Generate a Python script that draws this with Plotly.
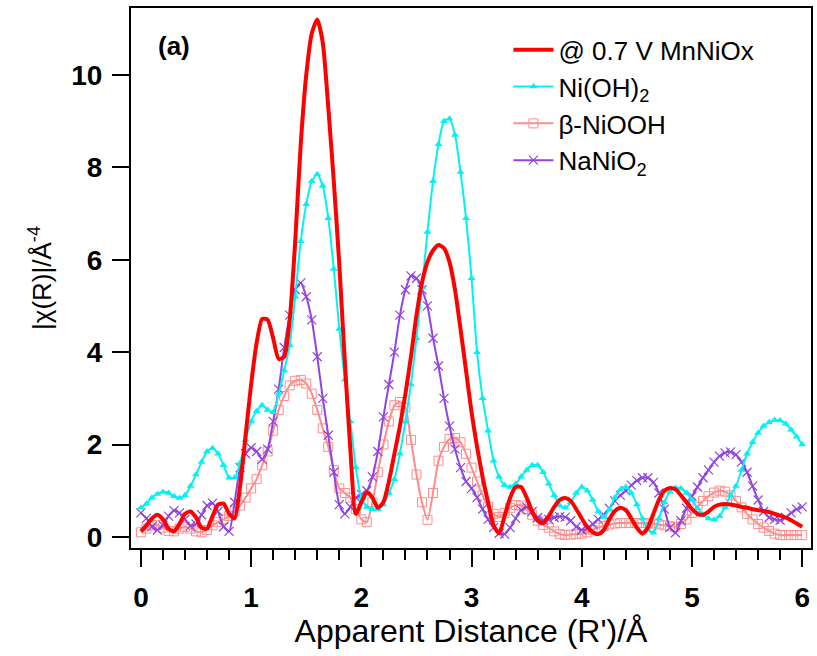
import plotly.graph_objects as go

# Apparent distance grid (Å)
r = [round(i * 0.05, 2) for i in range(121)]

mnniox = [0.12, 0.25, 0.40, 0.48, 0.38, 0.18, 0.12, 0.28, 0.50, 0.55,
          0.42, 0.20, 0.18, 0.45, 0.70, 0.72, 0.50, 0.40, 1.10, 2.20,
          3.30, 4.20, 4.72, 4.70, 4.30, 3.85, 3.90, 4.70, 6.40, 8.50,
          10.00, 10.90, 11.20, 10.70, 9.30, 7.70, 5.90, 3.80, 1.90, 0.50,
          0.75, 0.97, 0.85, 0.63, 0.75, 1.20, 1.80, 2.40, 3.10, 3.90,
          4.80, 5.50, 5.95, 6.20, 6.32, 6.25, 5.95, 5.35, 4.50, 3.60,
          2.70, 1.95, 1.30, 0.75, 0.25, 0.08, 0.45, 0.85, 1.08, 1.08,
          0.85, 0.55, 0.35, 0.30, 0.45, 0.65, 0.80, 0.84, 0.78, 0.60,
          0.40, 0.22, 0.10, 0.06, 0.15, 0.38, 0.56, 0.63, 0.58, 0.40,
          0.20, 0.07, 0.20, 0.50, 0.80, 1.00, 1.06, 1.03, 0.90, 0.75,
          0.60, 0.50, 0.48, 0.55, 0.65, 0.70, 0.71, 0.70, 0.68, 0.65,
          0.63, 0.60, 0.58, 0.56, 0.54, 0.50, 0.46, 0.42, 0.36, 0.29,
          0.22]

nioh2 = [0.63, 0.72, 0.85, 0.93, 0.97, 0.95, 0.88, 0.84, 0.90, 1.10,
         1.35, 1.62, 1.85, 1.92, 1.80, 1.55, 1.28, 1.28, 1.60, 2.10,
         2.50, 2.72, 2.85, 2.75, 2.70, 3.10, 3.60, 4.15, 5.20, 6.40,
         7.20, 7.70, 7.85, 7.60, 6.90, 5.80, 4.50, 3.40, 2.50, 1.50,
         0.85, 0.65, 0.60, 0.60, 0.70, 0.95, 1.25, 1.80, 2.50, 3.30,
         4.30, 5.40, 6.60, 7.70, 8.50, 9.00, 9.05, 8.70, 7.90, 6.90,
         5.60, 4.00, 3.00, 2.30, 1.65, 1.30, 1.12, 1.08, 1.15, 1.30,
         1.45, 1.55, 1.55, 1.40, 1.15, 0.90, 0.68, 0.63, 0.75, 0.95,
         1.08, 1.00, 0.80, 0.55, 0.43, 0.60, 0.85, 1.02, 1.08, 0.95,
         0.70, 0.40, 0.15, 0.09, 0.40, 0.75, 0.98, 1.06, 1.05, 0.95,
         0.80, 0.62, 0.48, 0.40, 0.37, 0.45, 0.65, 0.90, 1.10, 1.45,
         1.80, 2.05, 2.25, 2.40, 2.48, 2.53, 2.52, 2.45, 2.32, 2.17,
         2.00]

niooh = [0.10, 0.18, 0.25, 0.26, 0.20, 0.13, 0.12, 0.18, 0.22, 0.18,
         0.12, 0.10, 0.15, 0.25, 0.32, 0.38, 0.45, 0.55, 0.68, 0.85,
         1.05, 1.25, 1.55, 1.85, 2.30, 2.75, 3.05, 3.28, 3.38, 3.40,
         3.32, 3.10, 2.75, 2.35, 1.95, 1.45, 1.05, 0.95, 0.85, 0.60,
         0.38, 0.32, 0.75, 1.40, 2.00, 2.50, 2.85, 2.92, 2.80, 2.10,
         1.35, 0.75, 0.37, 0.95, 1.65, 1.95, 2.12, 2.14, 2.05, 1.80,
         1.50, 1.20, 0.90, 0.65, 0.50, 0.43, 0.52, 0.63, 0.69, 0.68,
         0.60, 0.48, 0.35, 0.26, 0.20, 0.12, 0.06, 0.04, 0.05, 0.06,
         0.07, 0.10, 0.15, 0.20, 0.24, 0.27, 0.29, 0.30, 0.30, 0.30,
         0.30, 0.30, 0.30, 0.29, 0.27, 0.25, 0.23, 0.22, 0.28, 0.38,
         0.52, 0.65, 0.78, 0.88, 0.96, 1.00, 0.98, 0.90, 0.78, 0.64,
         0.50, 0.38, 0.28, 0.20, 0.13, 0.07, 0.04, 0.04, 0.04, 0.04,
         0.04]

nanio2 = [0.52, 0.40, 0.22, 0.15, 0.25, 0.45, 0.57, 0.52, 0.38, 0.24,
          0.28, 0.48, 0.68, 0.73, 0.55, 0.22, 0.12, 0.75, 1.50, 1.80,
          1.93, 1.85, 1.68, 1.90, 2.50, 3.20, 4.10, 4.80, 5.35, 5.50,
          5.20, 4.70, 3.90, 3.00, 2.20, 1.40, 0.70, 0.50, 0.65, 0.85,
          0.92, 1.00, 1.30, 1.85, 2.60, 3.30, 4.00, 4.80, 5.35, 5.65,
          5.60, 5.35, 5.00, 4.30, 3.70, 3.00, 2.40, 1.90, 1.50, 1.20,
          1.05, 0.85, 0.60, 0.38, 0.20, 0.08, 0.06, 0.20, 0.40, 0.58,
          0.65, 0.55, 0.42, 0.36, 0.38, 0.42, 0.44, 0.43, 0.35, 0.22,
          0.15, 0.18, 0.28, 0.38, 0.48, 0.62, 0.78, 0.90, 1.00, 1.12,
          1.22, 1.28, 1.28, 1.18, 0.95, 0.60, 0.20, 0.09, 0.35, 0.62,
          0.88, 1.08, 1.28, 1.45, 1.62, 1.75, 1.82, 1.84, 1.78, 1.62,
          1.40, 1.10, 0.80, 0.55, 0.42, 0.38, 0.36, 0.42, 0.52, 0.60,
          0.65]

x_ticks = [0, 1, 2, 3, 4, 5, 6]
y_ticks = [0, 2, 4, 6, 8, 10]

FONT = "Liberation Sans, Arial, sans-serif"

fig = go.Figure()

fig.add_trace(go.Scatter(
    x=r, y=niooh, name="β-NiOOH", mode="lines+markers", legendrank=3,
    line=dict(color="#FF8C8C", width=2, shape="spline", smoothing=0.6),
    marker=dict(symbol="square-open", size=9, color="#FF8C8C", line=dict(width=1))))
fig.add_trace(go.Scatter(
    x=r, y=nanio2, name="NaNiO<sub>2</sub>", mode="lines+markers", legendrank=4,
    line=dict(color="#8F45E0", width=2, shape="spline", smoothing=0.6),
    marker=dict(symbol="x-thin-open", size=9, color="#8F45E0", line=dict(width=1.2, color="#8F45E0"))))
fig.add_trace(go.Scatter(
    x=r, y=nioh2, name="Ni(OH)<sub>2</sub>", mode="lines+markers", legendrank=2,
    line=dict(color="#00F2F2", width=2, shape="spline", smoothing=0.6),
    marker=dict(symbol="triangle-up", size=7, color="#00F2F2")))
fig.add_trace(go.Scatter(
    x=r, y=mnniox, name="@ 0.7 V MnNiOx", mode="lines", legendrank=1,
    line=dict(color="#FF0000", width=4, shape="spline", smoothing=0.6)))

fig.add_annotation(x=0.037, y=0.962, xref="paper", yref="paper", text="<b>(a)</b>",
                   showarrow=False, xanchor="left", yanchor="top",
                   font=dict(size=26, color="black", family=FONT))

fig.update_layout(
    width=817, height=656,
    margin=dict(l=131, r=4, t=8, b=108),
    paper_bgcolor="white", plot_bgcolor="white",
    font=dict(family=FONT, color="black", size=24),
    legend=dict(x=0.555, y=0.966, xanchor="left", yanchor="top",
                bgcolor="rgba(0,0,0,0)", font=dict(size=26, family=FONT),
                tracegroupgap=0, itemwidth=40),
    showlegend=True,
)

fig.update_xaxes(
    range=[-0.09, 6.08], tickvals=x_ticks, ticktext=[f"<b>{v}</b>" for v in x_ticks],
    ticks="outside", ticklen=17, tickwidth=2, tickcolor="black",
    minor=dict(dtick=0.2, tick0=0, ticks="outside", ticklen=10, tickwidth=2, tickcolor="black"),
    showline=True, linewidth=2, linecolor="black", mirror=True,
    showgrid=False, zeroline=False, ticklabelstandoff=6,
    tickfont=dict(size=28, family=FONT),
    title=dict(text="Apparent Distance (R')/Å", font=dict(size=32, family=FONT), standoff=3),
)
fig.update_yaxes(
    range=[-0.24, 11.45], tickvals=y_ticks, ticktext=[f"<b>{v}</b>" for v in y_ticks],
    ticks="outside", ticklen=17, tickwidth=2, tickcolor="black",
    showline=True, linewidth=2, linecolor="black", mirror=True,
    showgrid=False, zeroline=False, ticklabelstandoff=4,
    tickfont=dict(size=28, family=FONT),
    title=dict(text="|χ(R)|/Å<sup>-4</sup>", font=dict(size=26, family=FONT), standoff=12),
)

fig.write_html("out.html")
